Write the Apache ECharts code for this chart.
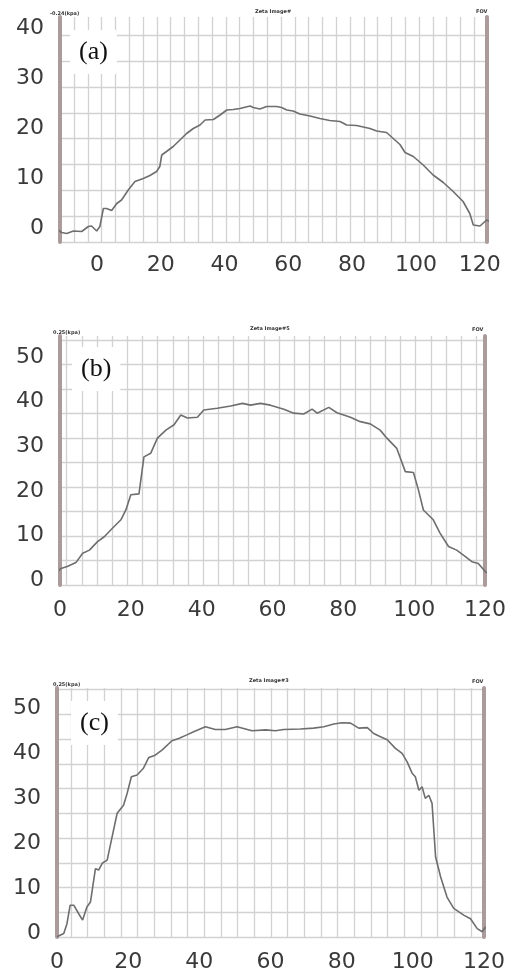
<!DOCTYPE html>
<html lang="en">
<head>
<meta charset="UTF-8">
<title>Profiles (a) (b) (c)</title>
<script src="https://cdn.jsdelivr.net/npm/echarts@6.0.0/dist/echarts.min.js"></script>
<style>html,body{margin:0;padding:0;background:#fff;}</style>
</head>
<body>
<div id="main" style="width:519px;height:978px;"></div>
<script type="text/javascript">
// curve (a)
var aX = [-14.2,-11.1,-9.5,-7.4,-4.8,-2.7,-1.7,-0.1,0.9,2.0,3.0,4.6,6.2,7.7,9.8,11.9,14.5,16.6,18.7,19.7,20.3,21.8,23.9,26.0,28.1,30.2,32.3,33.9,36.5,38.6,40.7,42.7,44.8,48.0,49.0,51.1,53.2,56.3,57.9,59.5,61.5,63.6,66.8,69.9,73.0,76.2,78.3,81.4,83.5,85.6,87.7,90.8,92.9,95.0,96.6,99.2,102.3,105.4,108.6,111.7,114.8,116.9,118.0,120.1,122.2,123.2];
var aY = [0.6,-0.9,-1.1,-0.6,-0.7,0.3,0.4,-0.6,0.3,3.9,3.9,3.5,4.9,5.6,7.6,9.3,9.9,10.5,11.3,12.3,14.6,15.3,16.3,17.6,18.9,19.9,20.6,21.6,21.7,22.6,23.6,23.7,23.9,24.4,24.1,23.8,24.3,24.3,24.1,23.6,23.4,22.8,22.4,21.9,21.5,21.3,20.6,20.5,20.2,19.9,19.4,19.1,17.9,16.7,15.1,14.3,12.6,10.6,9.1,7.3,5.3,2.9,0.6,0.4,1.6,1.3];
// curve (b)
var bX = [-1.6,0.3,2.2,4.5,6.4,8.3,10.6,12.5,14.8,17.2,18.6,20.0,22.3,23.7,25.6,27.5,29.9,32.2,34.1,36.0,38.8,40.6,44.4,48.2,51.5,53.8,56.6,59.4,63.2,66.0,68.8,71.2,72.6,75.9,78.2,82.0,84.8,87.6,90.4,92.3,95.1,97.5,99.8,101.2,102.6,105.4,107.3,109.7,112.0,113.9,116.3,118.1,120.5];
var bY = [1.1,2.6,3.1,3.9,6.0,6.7,8.6,9.7,11.6,13.5,15.7,19.1,19.3,27.6,28.4,31.8,33.6,34.8,37.0,36.3,36.5,38.1,38.5,39.0,39.6,39.2,39.6,39.2,38.3,37.4,37.2,38.3,37.4,38.7,37.5,36.5,35.5,35.0,33.6,31.8,29.5,24.3,24.1,20.2,15.7,13.5,10.5,7.5,6.7,5.6,4.1,3.7,1.5];
// curve (c)
var cX = [0,1.9,2.8,3.7,4.7,6.1,7.2,8.4,9.4,10.8,11.7,12.7,14.1,15.5,16.9,18.7,19.7,20.9,22.5,24.3,25.8,27.6,29.5,32.3,34.2,36.5,38.4,41.7,44.5,47.3,50.6,54.8,58.6,61.4,63.7,68.4,72.1,75.0,77.8,80.1,82.5,84.8,87.2,89.0,90.9,92.8,95.1,97.0,98.4,99.8,100.7,101.7,102.6,103.5,104.5,105.4,106.4,107.8,109.6,111.5,114.3,116.2,118.1,119.5,120.5];
var cY = [-0.7,0.0,2.2,6.3,6.3,4.4,3.0,5.9,7.0,14.4,14.1,15.6,16.3,21.5,26.7,28.5,31.1,34.8,35.2,36.7,39.1,39.6,40.7,42.8,43.3,44.1,44.8,45.9,45.3,45.3,45.9,45.0,45.2,45.0,45.3,45.4,45.6,45.9,46.5,46.8,46.7,45.6,45.7,44.4,43.7,43.0,41.1,40.0,38.1,35.6,34.8,31.8,32.6,30.0,30.7,28.9,17.0,12.6,8.1,5.6,4.1,3.3,1.1,0.4,1.5];

var labels = ['(a)', '(b)', '(c)'];
var headLeft = ['-0.24(kpa)', '0.25(kpa)', '0.25(kpa)'];
var headMid = ['Zeta Image#', 'Zeta Image#5', 'Zeta Image#3'];

// layout of each panel (pixels)
var layout = [
    {xs: aX, ys: aY, xMin: -11.6, xMax: 122.3, yMin: -2.8, yMax: 42.2,
     left: 60, top: 17, width: 427, height: 225, rows: 8.71,
     vLeft: 74, vCols: 29, vStep: 13.8, box: [70, 30], head: [50, 11, 255, 9, 476, 9], xMargin: 12},
    {xs: bX, ys: bY, xMin: 0, xMax: 120, yMin: -1.12, yMax: 54.7,
     left: 60, top: 336, width: 425, height: 249, rows: 10.16,
     vLeft: 66.7, vCols: 27, vStep: 15.17, box: [72, 347], head: [53, 330, 250, 326, 472, 327], xMargin: 14},
    {xs: cX, ys: cY, xMin: 0, xMax: 120, yMin: -0.76, yMax: 54.5,
     left: 57, top: 688, width: 427, height: 249, rows: 10.07,
     vLeft: 71, vCols: 24, vStep: 16.67, box: [71, 701], head: [53, 682, 249, 678, 472, 679], xMargin: 14}
];

var gridColor = '#d2d2d2';
var barColor = '#ab9b9b';
var labelStyle = {fontFamily: 'DejaVu Sans', fontSize: 22, color: '#3a3a3a'};

var grids = [], xAxes = [], yAxes = [], series = [], titles = [];

layout.forEach(function (p, i) {
    // data grid, bar to bar
    grids.push({left: p.left, top: p.top, width: p.width, height: p.height});
    // grid that only carries the vertical lines
    grids.push({left: p.vLeft, top: p.top, width: p.vCols * p.vStep, height: p.height});

    xAxes.push({
        type: 'value', gridIndex: 2 * i, position: 'bottom', min: p.xMin, max: p.xMax,
        splitNumber: 7,
        axisLine: {show: false, onZero: false}, axisTick: {show: false}, splitLine: {show: false},
        axisLabel: Object.assign({
            margin: p.xMargin,
            formatter: function (v) { return Math.abs(v % 20) < 1e-6 ? String(v) : ''; }
        }, labelStyle)
    });
    xAxes.push({
        type: 'value', gridIndex: 2 * i + 1, min: 0, max: p.vCols, interval: 1,
        axisLine: {show: false}, axisTick: {show: false}, axisLabel: {show: false},
        splitLine: {show: true, lineStyle: {color: gridColor, width: 1.3}}
    });

    yAxes.push({
        type: 'value', gridIndex: 2 * i, position: 'left', min: p.yMin, max: p.yMax,
        splitNumber: 5,
        axisLine: {show: true, onZero: false, lineStyle: {color: barColor, width: 4}},
        axisTick: {show: false}, splitLine: {show: false},
        axisLabel: Object.assign({
            margin: 16,
            formatter: function (v) { return Math.abs(v % 10) < 1e-6 ? String(v) : ''; }
        }, labelStyle)
    });
    yAxes.push({
        type: 'value', gridIndex: 2 * i, position: 'right', min: 0, max: p.rows, interval: 1,
        axisLine: {show: true, onZero: false, lineStyle: {color: barColor, width: 4}},
        axisTick: {show: false}, axisLabel: {show: false},
        splitLine: {show: true, showMaxLine: false, lineStyle: {color: gridColor, width: 1.3}}
    });
    yAxes.push({type: 'value', gridIndex: 2 * i + 1, min: 0, max: 1, show: false});

    series.push({
        type: 'line',
        xAxisIndex: 2 * i,
        yAxisIndex: 3 * i,
        data: p.xs.map(function (x, k) { return [x, p.ys[k]]; }),
        symbol: 'none',
        clip: false,
        z: 5,
        lineStyle: {color: '#6e6e6e', width: 1.6}
    });

    titles.push({
        text: labels[i], left: p.box[0], top: p.box[1],
        backgroundColor: '#fff', padding: [9, 9, 9, 9],
        textStyle: {fontFamily: 'Liberation Serif', fontSize: 26, fontWeight: 'normal', color: '#111', lineHeight: 26}
    });
    var tiny = {fontFamily: 'DejaVu Sans', fontSize: 5, fontWeight: 'bold', color: '#333'};
    titles.push({text: headLeft[i], left: p.head[0], top: p.head[1], padding: 0, textStyle: tiny});
    titles.push({text: headMid[i], left: p.head[2], top: p.head[3], padding: 0, textStyle: tiny});
    titles.push({text: 'FOV', left: p.head[4], top: p.head[5], padding: 0, textStyle: tiny});
});

var myChart = echarts.init(document.getElementById('main'));
myChart.setOption({
    animation: false,
    backgroundColor: '#fff',
    title: titles,
    grid: grids,
    xAxis: xAxes,
    yAxis: yAxes,
    series: series
});
</script>
</body>
</html>
